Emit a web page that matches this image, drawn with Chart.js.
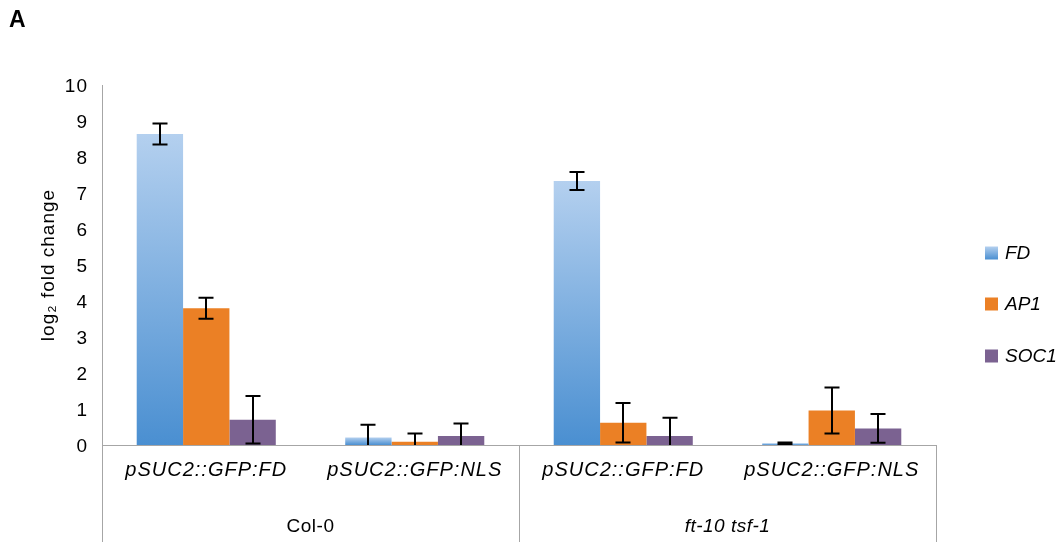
<!DOCTYPE html>
<html>
<head>
<meta charset="utf-8">
<script src="https://cdn.jsdelivr.net/npm/chart.js@4/dist/chart.umd.min.js"></script>
<style>
  html, body { margin: 0; padding: 0; background: #ffffff; }
  #wrap { position: relative; width: 1064px; height: 542px; }
</style>
</head>
<body>
<div id="wrap"><canvas id="chart"></canvas></div>
<script>
// ---- data ----
const categories = ['pSUC2::GFP:FD', 'pSUC2::GFP:NLS', 'pSUC2::GFP:FD', 'pSUC2::GFP:NLS'];
const genotypes = ['Col-0', 'ft-10 tsf-1'];
const genotypeItalic = [false, true];
const seriesNames = ['FD', 'AP1', 'SOC1'];
const fdValues   = [8.64, 0.21, 7.33, 0.05];
const fdErrors   = [0.29, 0.35, 0.25, 0.02];
const ap1Values  = [3.80, 0.09, 0.62, 0.96];
const ap1Errors  = [0.29, 0.23, 0.55, 0.64];
const soc1Values = [0.70, 0.25, 0.25, 0.46];
const soc1Errors = [0.66, 0.35, 0.51, 0.40];
const yTicks = [0, 1, 2, 3, 4, 5, 6, 7, 8, 9, 10];

// ---- styling ----
const FONT = '"Liberation Sans", Arial, Helvetica, sans-serif';
const FS = 19;
const AXIS = '#a6a6a6';
const FD_TOP = '#b4d0ef';
const FD_BOTTOM = '#4a8fd1';
const AP1_COLOR = '#eb8025';
const SOC1_COLOR = '#7b6291';

// vertical gradient per FD bar, light at the top, darker at the base
function fdFill(c) {
  const chart = c.chart;
  const area = chart.chartArea;
  if (!area || c.type !== 'data') return '#7fb0e2';
  const top = chart.scales.y.getPixelForValue(c.raw);
  const g = chart.ctx.createLinearGradient(0, top, 0, area.bottom);
  g.addColorStop(0, FD_TOP);
  g.addColorStop(1, FD_BOTTOM);
  return g;
}

const errorSets = [fdErrors, ap1Errors, soc1Errors];

// slightly looser text tracking for every label on the canvas
const tracking = {
  id: 'tracking',
  beforeDraw(chart) { chart.ctx.letterSpacing = '1px'; }
};

// error bars, clipped to the plot area
const errorBars = {
  id: 'errorBars',
  afterDatasetsDraw(chart) {
    const { ctx, chartArea: a, scales: { y } } = chart;
    ctx.save();
    ctx.beginPath();
    ctx.rect(a.left, a.top - 20, a.right - a.left, a.bottom - a.top + 20);
    ctx.clip();
    ctx.strokeStyle = '#000000';
    ctx.lineWidth = 2;
    chart.data.datasets.forEach((ds, i) => {
      const meta = chart.getDatasetMeta(i);
      meta.data.forEach((bar, j) => {
        const v = ds.data[j], e = errorSets[i][j];
        const x = Math.round(bar.x);
        const yt = y.getPixelForValue(v + e);
        const yb = y.getPixelForValue(v - e);
        const cap = 7.5;
        ctx.beginPath();
        ctx.moveTo(x, yt); ctx.lineTo(x, yb);
        ctx.moveTo(x - cap, yt); ctx.lineTo(x + cap, yt);
        ctx.moveTo(x - cap, yb); ctx.lineTo(x + cap, yb);
        ctx.stroke();
      });
    });
    ctx.restore();
  }
};

// genotype level of the category axis, legend and panel letter
const extras = {
  id: 'extras',
  afterDraw(chart) {
    const { ctx, chartArea: a, scales: { x } } = chart;
    const H = chart.height;
    const per = categories.length / genotypes.length;
    ctx.save();
    ctx.strokeStyle = AXIS;
    ctx.lineWidth = 1;
    for (let g = 0; g <= genotypes.length; g++) {
      const px = Math.round(x.getPixelForValue(g * per - 0.5)) + 0.5;
      ctx.beginPath();
      ctx.moveTo(px, a.bottom);
      ctx.lineTo(px, H);
      ctx.stroke();
    }
    ctx.fillStyle = '#000000';
    ctx.textAlign = 'center';
    ctx.textBaseline = 'middle';
    ctx.letterSpacing = '0.5px';
    genotypes.forEach((name, g) => {
      const cx = x.getPixelForValue(g * per + (per - 1) / 2);
      ctx.font = (genotypeItalic[g] ? 'italic ' : '') + FS + 'px ' + FONT;
      ctx.fillText(name, cx, 527);
    });

    // legend
    const colors = [null, AP1_COLOR, SOC1_COLOR];
    const rows = [253, 304, 356];
    ctx.textAlign = 'left';
    ctx.font = 'italic ' + FS + 'px ' + FONT;
    ctx.letterSpacing = '0px';
    seriesNames.forEach((name, i) => {
      const yc = rows[i];
      if (i === 0) {
        const g = ctx.createLinearGradient(0, yc - 6.5, 0, yc + 6.5);
        g.addColorStop(0, FD_TOP);
        g.addColorStop(1, FD_BOTTOM);
        ctx.fillStyle = g;
      } else {
        ctx.fillStyle = colors[i];
      }
      ctx.fillRect(985, yc - 6.5, 13, 13);
      ctx.fillStyle = '#000000';
      ctx.fillText(name, 1005, yc + 1);
    });

    // panel letter
    ctx.font = 'bold 23px ' + FONT;
    ctx.textBaseline = 'alphabetic';
    ctx.fillText('A', 9, 27);
    ctx.restore();
  }
};

new Chart(document.getElementById('chart'), {
  type: 'bar',
  data: {
    labels: categories,
    datasets: [
      { label: seriesNames[0], data: fdValues,   backgroundColor: fdFill },
      { label: seriesNames[1], data: ap1Values,  backgroundColor: AP1_COLOR },
      { label: seriesNames[2], data: soc1Values, backgroundColor: SOC1_COLOR }
    ]
  },
  options: {
    responsive: true,
    maintainAspectRatio: false,
    animation: false,
    devicePixelRatio: 1,
    layout: { padding: { left: 0, top: 85, right: 128, bottom: 52 } },
    datasets: { bar: { categoryPercentage: 0.667, barPercentage: 1.0, borderWidth: 0 } },
    plugins: {
      legend: { display: false },
      tooltip: { enabled: false },
      title: { display: false }
    },
    scales: {
      x: {
        grid: { display: false, drawTicks: false },
        border: { color: AXIS, width: 1 },
        ticks: {
          color: '#000000',
          font: { family: FONT, size: 20, style: 'italic' },
          padding: 13,
          maxRotation: 0,
          autoSkip: false
        },
        afterFit(s) { s.height = 45; }
      },
      y: {
        min: 0,
        max: 10,
        grid: { display: false, drawTicks: false },
        border: { color: AXIS, width: 1 },
        afterBuildTicks(s) { s.ticks = yTicks.map(v => ({ value: v })); },
        ticks: {
          color: '#000000',
          font: { family: FONT, size: FS },
          padding: 14,
          labelOffset: 2
        },
        title: {
          display: true,
          text: 'log\u2082 fold change',
          color: '#000000',
          font: { family: FONT, size: FS },
          padding: { top: 37, bottom: 0 }
        },
        afterFit(s) { s.width = 102; }
      }
    }
  },
  plugins: [tracking, errorBars, extras]
});
</script>
</body>
</html>
